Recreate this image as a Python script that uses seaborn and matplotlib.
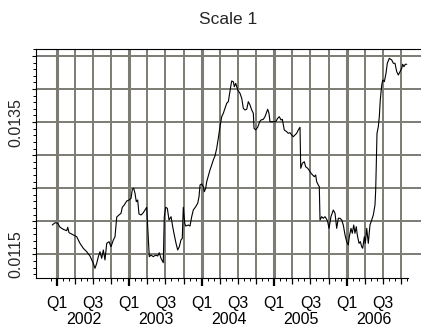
import numpy as np
import pandas as pd
import matplotlib
matplotlib.use("Agg")
import matplotlib.pyplot as plt
import seaborn as sns

sns.set_theme(style="white")
plt.rcParams["font.family"] = ["Liberation Sans", "DejaVu Sans"]

# Daily series, time in decimal years
time = [
    2001.939, 2001.977, 2002.014, 2002.046, 2002.091, 2002.138, 2002.152, 2002.170,
    2002.229, 2002.276, 2002.321, 2002.367, 2002.414, 2002.459, 2002.505, 2002.528,
    2002.552, 2002.574, 2002.597, 2002.621, 2002.643, 2002.666, 2002.690, 2002.721,
    2002.749, 2002.781, 2002.804, 2002.828, 2002.859, 2002.887, 2002.905, 2002.932,
    2002.966, 2002.997, 2003.025, 2003.043, 2003.062, 2003.080, 2003.098, 2003.117,
    2003.135, 2003.163, 2003.194, 2003.218, 2003.241, 2003.250, 2003.263, 2003.277,
    2003.301, 2003.332, 2003.366, 2003.393, 2003.415, 2003.439, 2003.470, 2003.484,
    2003.503, 2003.526, 2003.549, 2003.577, 2003.600, 2003.622, 2003.646, 2003.669,
    2003.691, 2003.714, 2003.732, 2003.746, 2003.766, 2003.779, 2003.815, 2003.839,
    2003.862, 2003.884, 2003.917, 2003.945, 2003.963, 2003.977, 2004.000, 2004.022,
    2004.036, 2004.055, 2004.069, 2004.091, 2004.114, 2004.138, 2004.160, 2004.183,
    2004.207, 2004.229, 2004.252, 2004.276, 2004.298, 2004.321, 2004.345, 2004.367,
    2004.381, 2004.400, 2004.414, 2004.436, 2004.450, 2004.469, 2004.497, 2004.528,
    2004.552, 2004.574, 2004.597, 2004.621, 2004.643, 2004.666, 2004.690, 2004.712,
    2004.722, 2004.745, 2004.772, 2004.800, 2004.818, 2004.850, 2004.873, 2004.897,
    2004.910, 2004.928, 2004.942, 2004.988, 2005.021, 2005.048, 2005.070, 2005.094,
    2005.112, 2005.139, 2005.172, 2005.194, 2005.218, 2005.241, 2005.263, 2005.287,
    2005.310, 2005.332, 2005.356, 2005.366, 2005.388, 2005.415, 2005.434, 2005.462,
    2005.480, 2005.508, 2005.531, 2005.553, 2005.572, 2005.586, 2005.608, 2005.622,
    2005.632, 2005.655, 2005.677, 2005.701, 2005.724, 2005.738, 2005.756, 2005.783,
    2005.815, 2005.839, 2005.862, 2005.884, 2005.908, 2005.931, 2005.953, 2005.977,
    2006.000, 2006.022, 2006.036, 2006.059, 2006.077, 2006.097, 2006.114, 2006.132,
    2006.146, 2006.170, 2006.188, 2006.207, 2006.221, 2006.243, 2006.257, 2006.276,
    2006.298, 2006.321, 2006.345, 2006.367, 2006.390, 2006.400, 2006.408, 2006.418,
    2006.436, 2006.450, 2006.463, 2006.483, 2006.497, 2006.519, 2006.542, 2006.560,
    2006.588, 2006.621, 2006.643, 2006.666, 2006.690, 2006.712, 2006.735, 2006.759,
    2006.772, 2006.790, 2006.808, 2006.828,
]

rate = [
    0.011943, 0.011978, 0.011969, 0.011909, 0.011878, 0.011857, 0.011909, 0.011827,
    0.011792, 0.011766, 0.011666, 0.011591, 0.011539, 0.011474, 0.011364, 0.011288,
    0.011364, 0.011464, 0.011539, 0.011439, 0.011565, 0.011414, 0.011666, 0.011691,
    0.011615, 0.011716, 0.011766, 0.012064, 0.012095, 0.012120, 0.012211, 0.012246,
    0.012306, 0.012322, 0.012347, 0.012483, 0.012499, 0.012423, 0.012296, 0.012322,
    0.012110, 0.012095, 0.012129, 0.012170, 0.012211, 0.012019, 0.011716, 0.011464,
    0.011489, 0.011464, 0.011489, 0.011474, 0.011524, 0.011439, 0.011373, 0.012069,
    0.012211, 0.012196, 0.012019, 0.012069, 0.011918, 0.011792, 0.011666, 0.011565,
    0.011615, 0.011716, 0.011742, 0.012211, 0.011969, 0.011928, 0.011943, 0.011928,
    0.012069, 0.012170, 0.012220, 0.012272, 0.012371, 0.012549, 0.012564, 0.012523,
    0.012447, 0.012499, 0.012598, 0.012685, 0.012775, 0.012851, 0.012927, 0.012987,
    0.013104, 0.013255, 0.013431, 0.013582, 0.013633, 0.013709, 0.013785, 0.013809,
    0.013910, 0.014036, 0.014122, 0.014111, 0.014036, 0.014087, 0.013986, 0.013936,
    0.013860, 0.013709, 0.013683, 0.013694, 0.013809, 0.013759, 0.013683, 0.013633,
    0.013406, 0.013381, 0.013422, 0.013506, 0.013532, 0.013543, 0.013582, 0.013657,
    0.013694, 0.013633, 0.013506, 0.013506, 0.013506, 0.013558, 0.013582, 0.013532,
    0.013543, 0.013381, 0.013355, 0.013331, 0.013340, 0.013305, 0.013279, 0.013305,
    0.013331, 0.013381, 0.013422, 0.012801, 0.012877, 0.012901, 0.012825, 0.012801,
    0.012775, 0.012726, 0.012700, 0.012674, 0.012700, 0.012598, 0.012549, 0.012523,
    0.012019, 0.012069, 0.012045, 0.012069, 0.012030, 0.011993, 0.011893, 0.012069,
    0.012170, 0.012120, 0.011893, 0.012045, 0.012045, 0.012019, 0.011943, 0.011792,
    0.011691, 0.011641, 0.011766, 0.011893, 0.011818, 0.011943, 0.011818, 0.011918,
    0.011792, 0.011666, 0.011691, 0.011615, 0.011591, 0.011766, 0.011666, 0.011893,
    0.011666, 0.011943, 0.012019, 0.012095, 0.012246, 0.012473, 0.012825, 0.013331,
    0.013431, 0.013582, 0.013835, 0.014061, 0.014137, 0.014111, 0.014239, 0.014390,
    0.014465, 0.014440, 0.014390, 0.014390, 0.014263, 0.014213, 0.014263, 0.014314,
    0.014375, 0.014338, 0.014375, 0.014375,
]

years = [2002, 2003, 2004, 2005, 2006]
quarter_names = ["Q1", "Q2", "Q3", "Q4"]
shown_quarters = ["Q1", "Q3"]
y_grid = [0.0115, 0.0120, 0.0125, 0.0130, 0.0135, 0.0140, 0.0145]
y_labelled = [0.0115, 0.0135]

df = pd.DataFrame({"time": time, "rate": rate})

W, H = 421, 326
fig = plt.figure(figsize=(W / 100, H / 100), dpi=100)
ax = fig.add_axes([36 / W, (H - 278.3) / H, (440 - 36) / W, (278.3 - 49) / H])

grid_col = "#7c7c74"
quarter_pos = [y + q / 4 for y in years for q in range(4)]
for qp in quarter_pos:
    thick = abs(qp - round(qp)) < 1e-9
    ax.axvline(qp, color=grid_col, lw=2.2 if thick else 1.4, zorder=1)
for gy in y_grid:
    ax.axhline(gy, color=grid_col, lw=1.4, zorder=1)

sns.lineplot(data=df, x="time", y="rate", ax=ax, color="black", lw=0.8,
             zorder=3, legend=False)

ax.set_xlim(2002 - 20.7 / 72.5, 2002 + (440 - 56.7) / 72.5)
ax.set_ylim(0.011137, 0.014606)
ax.set_xlabel("")
ax.set_ylabel("")

for side in ["top", "left", "bottom"]:
    ax.spines[side].set_visible(True)
    ax.spines[side].set_color("black")
    ax.spines[side].set_linewidth(0.8)
ax.spines["right"].set_visible(False)
ax.spines["bottom"].set_bounds(ax.get_xlim()[0], 2006.846)

# x axis: quarter ticks, monthly minor ticks
ax.set_xticks(quarter_pos)
ax.set_xticklabels([])
months = [2001 + 11 / 12 + m / 12 for m in range(60)]
ax.set_xticks(months, minor=True)
ax.tick_params(axis="x", which="major", direction="out", length=4.5, width=0.9,
               color="black", bottom=True)
ax.tick_params(axis="x", which="minor", direction="out", length=2.3, width=0.7,
               color="black", bottom=True)
for tick, qp in zip(ax.xaxis.get_major_ticks(), quarter_pos):
    if abs(qp - round(qp)) < 1e-9:
        tick.tick1line.set_markersize(6)
        tick.tick1line.set_markeredgewidth(1.6)

xtrans = ax.get_xaxis_transform()
for y in years:
    for q, name in enumerate(quarter_names):
        if name in shown_quarters:
            ax.text(y + q / 4, -0.112, name, transform=xtrans, ha="center",
                    va="center", fontsize=11.5, color="black")
    ax.text(y + 0.37, -0.178, str(y), transform=xtrans, ha="center",
            va="center", fontsize=11.5, color="black")

# y axis
ax.set_yticks(y_grid)
ax.set_yticklabels([f"{v:.4f}" if v in y_labelled else "" for v in y_grid],
                   rotation=90, va="center", fontsize=11.5)
ax.set_yticks(np.round(np.arange(0.0112, 0.01461, 0.0001), 5), minor=True)
ax.tick_params(axis="y", which="major", direction="out", length=2.6, width=0.8,
               color="black", left=True, pad=6.5)
ax.tick_params(axis="y", which="minor", direction="out", length=2.0, width=0.7,
               color="black", left=True)

fig.text(228 / W, 1 - 20 / H, "Scale 1", ha="center", va="center", fontsize=12.5)

fig.savefig("out.png", dpi=100)
